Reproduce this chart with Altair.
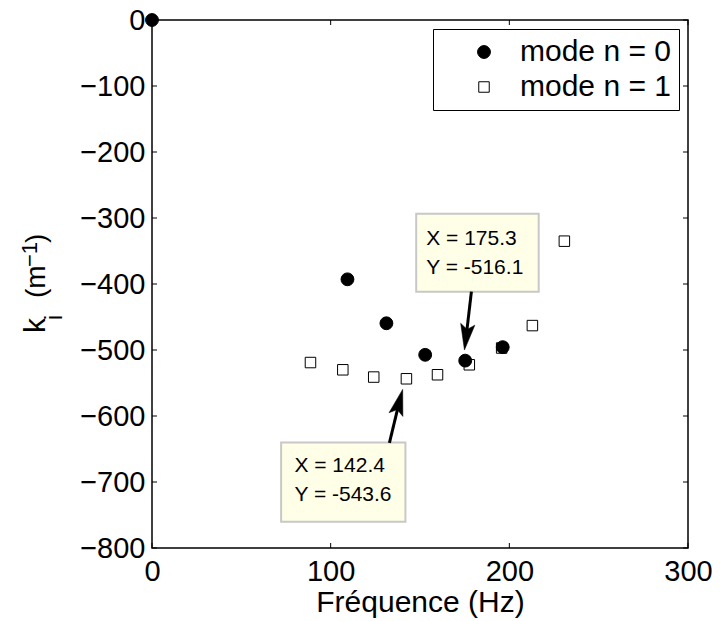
import altair as alt
import pandas as pd

# ---------------- data ----------------
modes = ["mode n = 0", "mode n = 1"]
f_mode0 = [0, 109.4, 131.2, 152.9, 175.3, 196.3]
k_mode0 = [0, -392.9, -459.5, -507.3, -516.1, -495.7]
f_mode1 = [88.7, 106.8, 124.1, 142.4, 159.8, 177.6, 195.7, 212.9, 230.8]
k_mode1 = [-519.0, -530.0, -541.0, -543.6, -537.5, -522.4, -497.0, -463.0, -335.1]

x_ticks = [0, 100, 200, 300]
y_ticks = [-800, -700, -600, -500, -400, -300, -200, -100, 0]

tip1 = {"f": [175.3], "k": [-516.1]}
tip2 = {"f": [142.4], "k": [-543.6]}

FONT = "Liberation Sans"
W, H = 536, 528

# squares first so circles are drawn on top
df = pd.concat([
    pd.DataFrame({"f": f_mode1, "k": k_mode1, "mode": modes[1]}),
    pd.DataFrame({"f": f_mode0, "k": k_mode0, "mode": modes[0]}),
], ignore_index=True)

xscale = alt.Scale(domain=[0, 300], nice=False, zero=False)
yscale = alt.Scale(domain=[-800, 0], nice=False, zero=False)

xaxis = alt.Axis(values=x_ticks, grid=False, domain=False, ticks=False, tickSize=0,
                 labelFont=FONT, labelFontSize=29, labelColor="black", labelPadding=9,
                 labelFlush=False, labelOverlap=False,
                 title="Fréquence (Hz)", titleFont=FONT, titleFontSize=30,
                 titleFontWeight="normal", titleColor="black", titlePadding=1)
yaxis = alt.Axis(values=y_ticks, grid=False, domain=False, ticks=False, tickSize=0,
                 labelFont=FONT, labelFontSize=29, labelColor="black", labelPadding=7,
                 labelFlush=False, labelOverlap=False, title="")

leg = alt.Legend(title=None, orient="none", legendX=281, legendY=9,
                 strokeColor="black", fillColor="white", padding=8, cornerRadius=0,
                 labelFont=FONT, labelFontSize=30, labelColor="black", labelLimit=400,
                 symbolOffset=28, labelOffset=21, rowPadding=5,
                 symbolStrokeColor="black", symbolStrokeWidth=1)

X = lambda fld: alt.X(fld, scale=xscale, axis=xaxis)
Y = lambda fld: alt.Y(fld, scale=yscale, axis=yaxis)

points = alt.Chart(df).mark_point(filled=True, strokeWidth=1, opacity=1).encode(
    x=X("f:Q"),
    y=Y("k:Q"),
    fill=alt.Fill("mode:N", scale=alt.Scale(domain=modes, range=["black", "white"]), legend=leg),
    stroke=alt.Stroke("mode:N", scale=alt.Scale(domain=modes, range=["black", "black"]), legend=leg),
    shape=alt.Shape("mode:N", scale=alt.Scale(domain=modes, range=["circle", "square"]), legend=leg),
    size=alt.Size("mode:N", scale=alt.Scale(domain=modes, range=[165, 110]), legend=leg),
)

# inward ticks on all four sides
xt = pd.DataFrame({"f": x_ticks})
yt = pd.DataFrame({"k": y_ticks})
tick_style = dict(color="black", strokeWidth=1)
t_bottom = alt.Chart(xt).mark_rule(**tick_style).encode(
    x=X("f:Q"), y=alt.value(H), y2=alt.value(H - 5))
t_top = alt.Chart(xt).mark_rule(**tick_style).encode(
    x=X("f:Q"), y=alt.value(0), y2=alt.value(5))
t_left = alt.Chart(yt).mark_rule(**tick_style).encode(
    y=Y("k:Q"), x=alt.value(0), x2=alt.value(5))
t_right = alt.Chart(yt).mark_rule(**tick_style).encode(
    y=Y("k:Q"), x=alt.value(W), x2=alt.value(W - 5))


def datatip(tip, box, line1_dy, line2_dy, text_dx, tail, head, angle):
    d = alt.Chart(pd.DataFrame(tip)).transform_calculate(
        l1="'X = ' + format(datum.f, '.1f')",
        l2="'Y = ' + replace(format(datum.k, '.1f'), '\u2212', '-')",
    )
    enc = dict(x=X("f:Q"), y=Y("k:Q"))
    rect = d.mark_rect(fill="#ffffe8", stroke="#c8c8c8", strokeWidth=2,
                       xOffset=box[0], x2Offset=box[1], yOffset=box[2], y2Offset=box[3]).encode(
        x2=alt.X2("f"), y2=alt.Y2("k"), **enc)
    t1 = d.mark_text(align="left", baseline="middle", font=FONT, fontSize=21, color="black",
                     dx=text_dx, dy=line1_dy).encode(text="l1:N", **enc)
    t2 = d.mark_text(align="left", baseline="middle", font=FONT, fontSize=21, color="black",
                     dx=text_dx, dy=line2_dy).encode(text="l2:N", **enc)
    shaft = d.mark_rule(color="black", strokeWidth=3,
                        xOffset=tail[0], yOffset=tail[1], x2Offset=head[0], y2Offset=head[1]).encode(
        x2=alt.X2("f"), y2=alt.Y2("k"), **enc)
    arrow = d.mark_point(shape="M0,-1L0.55,1L0,0.6L-0.55,1Z", filled=True, fill="black",
                         stroke="black", strokeWidth=0.5, opacity=1, size=26 * 26, angle=angle,
                         xOffset=head[0], yOffset=head[1]).encode(**enc)
    return [rect, t1, t2, shaft, arrow]


tipA = datatip(tip1, box=(-49, 73.5, -147, -69), line1_dy=-121.5, line2_dy=-93,
               text_dx=-39, tail=(6.2, -69), head=(0.9, -23.5), angle=187.3)
tipB = datatip(tip2, box=(-125.3, -1, 63.6, 143), line1_dy=87, line2_dy=116,
               text_dx=-112, tail=(-17, 64), head=(-7.1, 23.2), angle=15)

# y-axis title  k_i (m^-1)  composed from rotated text pieces
yt_parts = [
    ("k", 30, -107, 313),
    ("i", 23, -90, 300),
    ("(m", 28, -107, 278),
    ("\u22121", 22, -115, 247),
    (")", 28, -107, 223),
]
ytitle = []
for txt, fs, px, py in yt_parts:
    ytitle.append(
        alt.Chart(pd.DataFrame({"t": [txt]})).mark_text(
            align="left", baseline="alphabetic", angle=270, font=FONT, fontSize=fs, color="black"
        ).encode(text="t:N", x=alt.value(px), y=alt.value(py))
    )

chart = alt.layer(
    t_bottom, t_top, t_left, t_right, points, *tipA, *tipB, *ytitle
).properties(
    width=W, height=H,
    padding={"left": 144, "top": 12, "right": 24, "bottom": 70},
    autosize=alt.AutoSizeParams(type="none"),
    background="white",
).configure_view(stroke="black", strokeWidth=1.5)

chart.save("out.html", embed_options={"renderer": "svg", "actions": False})
